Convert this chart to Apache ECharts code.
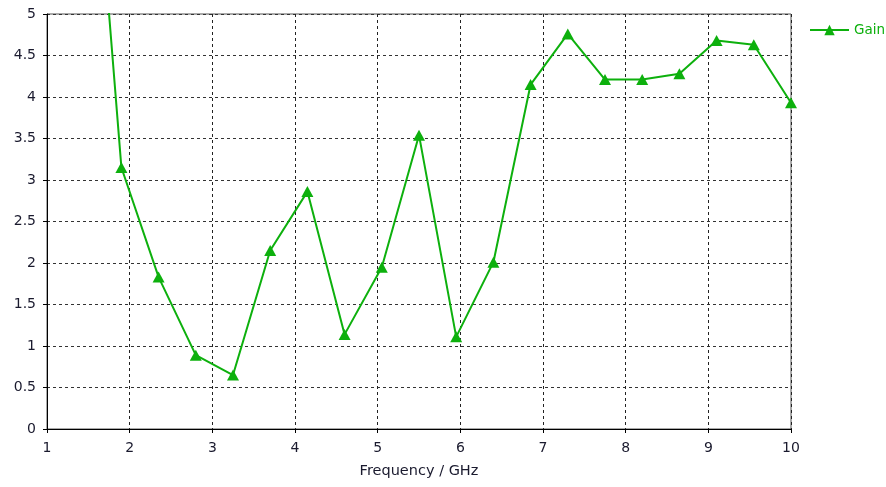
<!DOCTYPE html>
<html>
<head>
<meta charset="utf-8">
<script src="https://cdn.jsdelivr.net/npm/echarts@6/dist/echarts.min.js"></script>
<style>
html,body{margin:0;padding:0;background:#fff;}
#c{width:886px;height:487px;}
</style>
</head>
<body>
<div id="c"></div>
<script>
var frequency = [1.45, 1.9, 2.35, 2.8, 3.25, 3.7, 4.15, 4.6, 5.05, 5.5, 5.95, 6.4, 6.85, 7.3, 7.75, 8.2, 8.65, 9.1, 9.55, 10.0];
var gain = [8.73, 3.15, 1.83, 0.89, 0.65, 2.15, 2.86, 1.14, 1.95, 3.54, 1.11, 2.01, 4.15, 4.76, 4.21, 4.21, 4.28, 4.68, 4.63, 3.93];
var seriesName = 'Gain';
var xTitle = 'Frequency / GHz';

var green = '#0db00d';
var font = '"DejaVu Sans", Verdana, sans-serif';
var chart = echarts.init(document.getElementById('c'), null, {renderer: 'canvas'});
chart.setOption({
  animation: false,
  backgroundColor: '#fff',
  grid: {left: 47, right: 95, top: 14, bottom: 58, show: true, borderColor: '#555', borderWidth: 1, containLabel: false},
  legend: {
    left: 809, top: 23, padding: 0,
    itemWidth: 39, itemHeight: 13, itemGap: 6,
    data: [seriesName],
    textStyle: {color: green, fontFamily: font, fontSize: 13.5}
  },
  xAxis: {
    type: 'value', min: 1, max: 10, interval: 1,
    name: xTitle, nameLocation: 'middle', nameGap: 35,
    nameTextStyle: {color: '#1a1a2e', fontFamily: font, fontSize: 14.5},
    axisLine: {show: true, lineStyle: {color: '#000', width: 1}},
    axisTick: {show: true, length: 4, inside: false, lineStyle: {color: '#000'}},
    axisLabel: {color: '#1a1a2e', fontFamily: font, fontSize: 14, margin: 12},
    splitLine: {show: true, lineStyle: {color: '#222', type: [3, 3], width: 1}}
  },
  yAxis: {
    type: 'value', min: 0, max: 5, interval: 0.5,
    axisLine: {show: true, lineStyle: {color: '#000', width: 1}},
    axisTick: {show: true, length: 4, lineStyle: {color: '#000'}},
    axisLabel: {color: '#1a1a2e', fontFamily: font, fontSize: 14, margin: 11},
    splitLine: {show: true, lineStyle: {color: '#333', type: [3, 3], width: 1}}
  },
  series: [{
    name: seriesName,
    type: 'line',
    data: frequency.map(function (f, i) { return [f, gain[i]]; }),
    clip: true,
    symbol: 'triangle',
    symbolSize: [12, 11],
    showAllSymbol: true,
    itemStyle: {color: green},
    lineStyle: {color: green, width: 2}
  }]
});
</script>
</body>
</html>
